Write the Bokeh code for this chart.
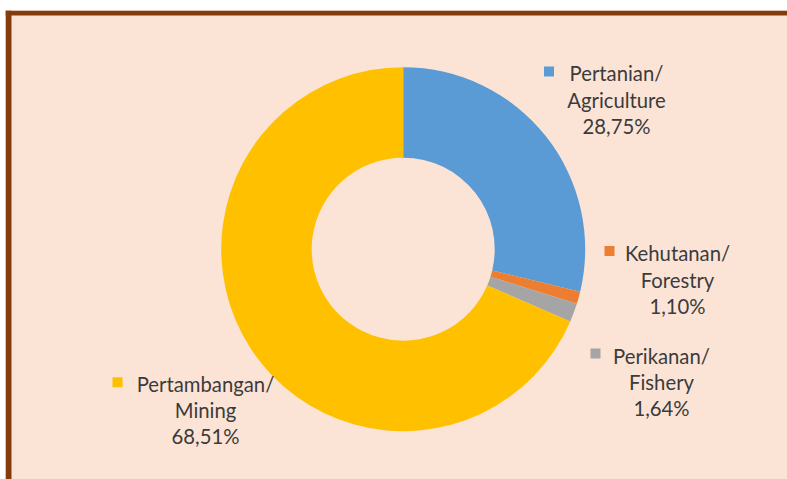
import numpy as np
from bokeh.plotting import figure
from bokeh.models import Range1d, Span, ColumnDataSource
from bokeh.core.properties import value
from bokeh.embed import file_html
from bokeh.resources import INLINE

# ---- data ----
names_id = ["Pertanian/", "Kehutanan/", "Perikanan/", "Pertambangan/"]
names_en = ["Agriculture", "Forestry", "Fishery", "Mining"]
shares = [28.75, 1.10, 1.64, 68.51]
colors = ["#5B9BD5", "#ED7D31", "#A5A5A5", "#FFC000"]

# ---- layout (pixels) ----
W, H = 787, 479
BL, BT = 5, 10                    # white margin left / top
FW, FH = W - BL, H - BT
CX, CY = 397.7, 230.3             # donut centre in frame pixels
R_OUT, R_IN = 182.0, 91.5
# label anchors (frame pixels): text centre x, first baseline y, marker centre
lab_x = [611, 672, 656, 200]
lab_y = [406.2, 226.2, 123.8, 95.5]
mk_x = [543.5, 604, 590, 112]
mk_y = [408, 228.5, 126, 97.3]
LINE = 26.2
BG = "#FBE4D6"
TXT = "#3B3B3B"
FONT = "Lato"
FS = "20.3px"

p = figure(width=W, height=H, output_backend="svg", toolbar_location=None,
           x_range=Range1d(0, FW), y_range=Range1d(0, FH),
           x_axis_type=None, y_axis_type=None,
           min_border_left=BL, min_border_top=BT,
           min_border_right=0, min_border_bottom=0,
           background_fill_color=BG, border_fill_color="white",
           outline_line_color=None)
p.grid.visible = False

frac = np.array(shares) / np.sum(shares)
cum = np.concatenate([[0], np.cumsum(frac)])
start = np.pi / 2 - 2 * np.pi * cum[:-1]
end = np.pi / 2 - 2 * np.pi * cum[1:]

src = ColumnDataSource(dict(start=start, end=end, color=colors))
p.annular_wedge(x=CX, y=CY, inner_radius=R_IN, outer_radius=R_OUT,
                start_angle="start", end_angle="end", direction="clock",
                fill_color="color", line_color=None, source=src)

pct = [f"{v:.2f}".replace(".", ",") + "%" for v in shares]
for i in range(len(shares)):
    lines = [names_id[i], names_en[i], pct[i]]
    p.text(x=[lab_x[i]] * 3, y=[lab_y[i] - k * LINE for k in range(3)], text=lines,
           text_align="center", text_baseline="alphabetic",
           text_font=value(FONT), text_font_size=FS, text_color=TXT)
p.scatter(x=mk_x, y=mk_y, marker="square", size=10, fill_color=colors, line_color=None)

brown = "#843C0C"
p.add_layout(Span(location=FH - 2.5, dimension="width", line_color=brown, line_width=5))
p.add_layout(Span(location=3, dimension="height", line_color=brown, line_width=6))

open("out.html", "w").write(file_html(p, INLINE))
